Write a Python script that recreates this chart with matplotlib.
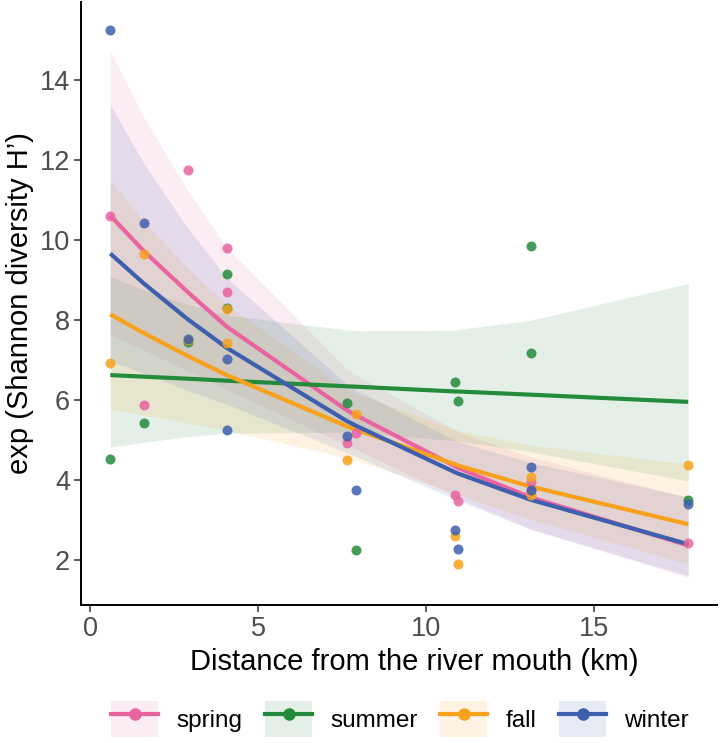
import numpy as np
import matplotlib.pyplot as plt
from matplotlib.patches import Patch
from matplotlib.lines import Line2D
from matplotlib.legend_handler import HandlerTuple

plt.rcParams['font.family'] = ['Liberation Sans', 'DejaVu Sans']

# ------------------------------------------------------------
# Data
# ------------------------------------------------------------
seasons = ['spring', 'summer', 'fall', 'winter']
colors = ['#E8639F', '#238B3B', '#F8A11C', '#3D5FAD']

# sampling stations (km from the river mouth), one point per season each
point_x = [0.6, 1.6, 2.9, 4.07, 4.07, 7.64, 7.9, 10.86, 10.94, 13.12, 13.12, 17.8]
spring_pts = [10.62, 5.89, 11.77, 9.80, 8.71, 4.92, 5.18, 3.63, 3.47, 3.96, 3.72, 2.44]
summer_pts = [4.54, 5.43, 7.46, 9.17, 8.31, 5.93, 2.25, 6.46, 5.98, 9.85, 7.17, 3.50]
fall_pts = [6.93, 9.67, 7.50, 7.43, 8.28, 4.50, 5.65, 2.60, 1.91, 4.08, 3.63, 4.39]
winter_pts = [15.27, 10.44, 7.54, 7.04, 5.25, 5.10, 3.75, 2.75, 2.28, 4.33, 3.75, 3.40]

# fitted curves and 95% bands at the station positions
fit_x = [0.6, 1.6, 2.9, 4.07, 7.64, 7.9, 10.86, 10.94, 13.12, 17.8]
spring_fit = [10.62, 9.73, 8.71, 7.84, 5.75, 5.63, 4.35, 4.31, 3.57, 2.37]
spring_lo = [7.65, 7.25, 6.74, 6.27, 4.87, 4.78, 3.60, 3.56, 2.78, 1.57]
spring_hi = [14.74, 13.07, 11.25, 9.81, 6.79, 6.64, 5.26, 5.21, 4.58, 3.57]

summer_fit = [6.63, 6.59, 6.54, 6.49, 6.35, 6.34, 6.22, 6.22, 6.14, 5.96]
summer_lo = [4.83, 4.95, 5.09, 5.18, 5.20, 5.19, 4.99, 4.98, 4.71, 3.98]
summer_hi = [9.10, 8.76, 8.40, 8.13, 7.76, 7.74, 7.75, 7.77, 8.00, 8.92]

fall_fit = [8.15, 7.68, 7.11, 6.63, 5.35, 5.27, 4.40, 4.37, 3.84, 2.90]
fall_lo = [5.78, 5.63, 5.43, 5.24, 4.56, 4.50, 3.68, 3.64, 3.02, 1.91]
fall_hi = [11.50, 10.47, 9.31, 8.39, 6.28, 6.17, 5.27, 5.24, 4.88, 4.40]

winter_fit = [9.67, 8.92, 8.03, 7.31, 5.48, 5.37, 4.20, 4.17, 3.51, 2.40]
winter_lo = [6.98, 6.68, 6.25, 5.90, 4.69, 4.60, 3.53, 3.50, 2.77, 1.61]
winter_hi = [13.39, 11.92, 10.31, 9.06, 6.40, 6.27, 5.00, 4.97, 4.44, 3.58]

pts = [spring_pts, summer_pts, fall_pts, winter_pts]
fits = [spring_fit, summer_fit, fall_fit, winter_fit]
los = [spring_lo, summer_lo, fall_lo, winter_lo]
his = [spring_hi, summer_hi, fall_hi, winter_hi]

# ------------------------------------------------------------
# Plot
# ------------------------------------------------------------
fig = plt.figure(figsize=(7.2, 7.43), dpi=100)
ax = fig.add_axes([0.113, 0.186, 0.883, 0.811])

band_alpha = 0.12
for c, lo, hi in zip(colors, los, his):
    ax.fill_between(fit_x, lo, hi, color=c, alpha=band_alpha, linewidth=0, zorder=1)

for c, f in zip(colors, fits):
    ax.plot(fit_x, f, color=c, lw=3, solid_capstyle='butt', zorder=2)

for c, p in zip(colors, pts):
    ax.scatter(point_x, p, s=52, color=c, alpha=0.85, linewidths=0, zorder=3)

ax.set_xlim(-0.26, 18.66)
ax.set_ylim(0.885, 15.955)
ax.set_xticks([0, 5, 10, 15])
ax.set_yticks([2, 4, 6, 8, 10, 12, 14])

for side in ['top', 'right']:
    ax.spines[side].set_visible(False)
for side in ['left', 'bottom']:
    ax.spines[side].set_linewidth(1.4)
    ax.spines[side].set_color('black')
ax.tick_params(length=5, width=1.1, color='#333333', labelcolor='#4D4D4D',
               labelsize=19.5, pad=3)

fig.text(414 / 720, 1 - 662 / 743, 'Distance from the river mouth (km)',
         ha='center', va='center', fontsize=21)
fig.text(20 / 720, 1 - 303 / 743, 'exp (Shannon diversity H\u2019)',
         ha='center', va='center', rotation=90, fontsize=21)

# legend: band colour behind a line with a dot
handles = []
for c in colors:
    bg = Patch(facecolor=c, alpha=band_alpha, edgecolor='none')
    ln = Line2D([], [], color=c, lw=3, marker='o', markersize=8)
    handles.append((bg, ln))
fig.legend(handles, seasons, loc='center', bbox_to_anchor=(400 / 720, 1 - 719 / 743),
           ncol=4, frameon=False, fontsize=17.5, handlelength=1.93, handleheight=1.85,
           handletextpad=0.74, columnspacing=0.95, borderpad=0, borderaxespad=0,
           handler_map={tuple: HandlerTuple(ndivide=1, pad=0)})

fig.savefig('out.png', dpi=100)
